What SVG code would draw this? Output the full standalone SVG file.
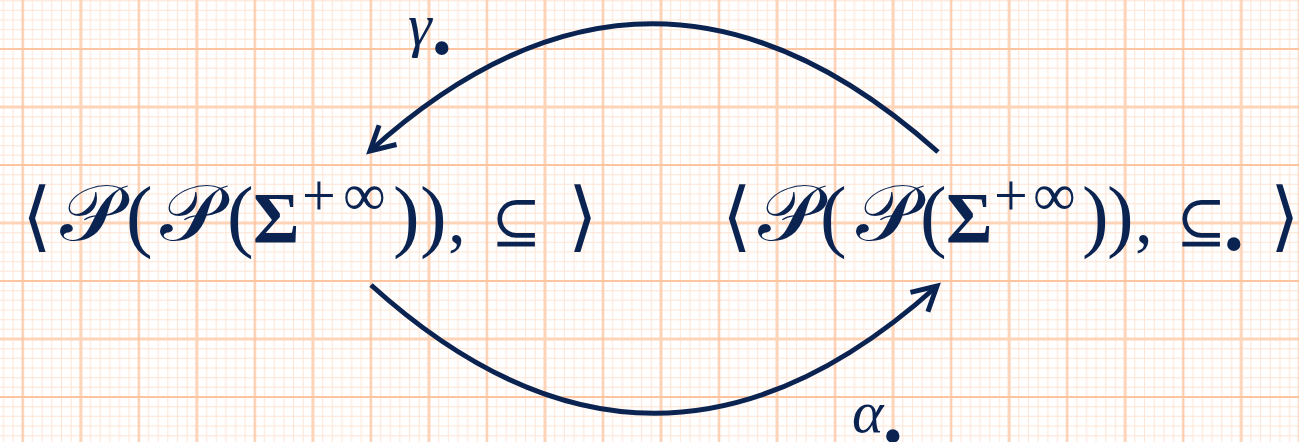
<svg xmlns="http://www.w3.org/2000/svg" width="1299" height="442" viewBox="0 0 1299 442">
<style>
.t{fill:#0b2351;font-family:"Liberation Serif","DejaVu Serif",serif;font-size:71px}
.scr{font-family:"DejaVu Sans","DejaVu Serif","Noto Sans",serif;font-size:78px}
.ang{font-family:"DejaVu Sans","DejaVu Serif",sans-serif;font-size:76px}
.op{font-family:"DejaVu Serif","DejaVu Sans",serif;font-size:60px}
.par{font-size:80px}
.sig{font-weight:bold}
.sup{font-size:60px}
.dot{font-size:56px;font-style:normal}
.lab{fill:#0b2351;font-family:"Liberation Serif","DejaVu Serif",serif;font-style:italic;font-size:60px}
.arc{fill:none;stroke:#0b2351;stroke-width:5}
</style>
<defs>
<pattern id="paper" patternUnits="userSpaceOnUse" x="-35.22" y="-9" width="116.04" height="116">
<rect width="116.04" height="116" fill="#ffffff"/>
<path d="M9.67,0V116M19.34,0V116M29.01,0V116M38.68,0V116M48.35,0V116M67.69,0V116M77.36,0V116M87.03,0V116M96.7,0V116M106.37,0V116M0,9.67H116.04M0,19.33H116.04M0,29H116.04M0,38.67H116.04M0,48.33H116.04M0,67.67H116.04M0,77.33H116.04M0,87H116.04M0,96.67H116.04M0,106.33H116.04" stroke="#fee5d4" stroke-width="1"/>
<path d="M0,0V116M116.04,0V116M0,0H116.04M0,116H116.04" stroke="#fdd4b8" stroke-width="3"/>
<path d="M58.02,0V116M0,58H116.04" stroke="#fdc4a0" stroke-width="2"/>
</pattern>
<marker id="vhead" markerUnits="userSpaceOnUse" orient="auto" refX="0" refY="0" markerWidth="40" markerHeight="40" viewBox="-30 -20 40 40" overflow="visible">
<path d="M-24,-13L0,0L-24,13" fill="none" stroke="#0b2351" stroke-width="5"/>
</marker>
</defs>
<rect id="grid" width="1299" height="442" fill="url(#paper)"/>
<g id="node-left" class="t">
<text class="scr" transform="translate(60,240) scale(1.08,1)">𝒫</text>
<text class="scr" transform="translate(160,240) scale(1.08,1)">𝒫</text>
<text y="242"><tspan class="ang" x="22">⟨</tspan><tspan class="par" x="126">(</tspan><tspan class="par" x="227">(</tspan><tspan class="sig" x="253">Σ</tspan><tspan class="sup" x="302" y="215">+</tspan><tspan class="sup" x="343" y="215">∞</tspan><tspan class="par" x="393" y="242">)</tspan><tspan class="par" x="420">)</tspan><tspan x="448">,</tspan><tspan class="op" x="491">⊆</tspan><tspan class="ang" x="568">⟩</tspan></text>
</g>
<g id="node-right" class="t">
<text class="scr" transform="translate(758,240) scale(1.08,1)">𝒫</text>
<text class="scr" transform="translate(856,240) scale(1.08,1)">𝒫</text>
<text y="242"><tspan class="ang" x="722">⟨</tspan><tspan class="par" x="820">(</tspan><tspan class="par" x="920">(</tspan><tspan class="sig" x="946">Σ</tspan><tspan class="sup" x="994" y="215">+</tspan><tspan class="sup" x="1033" y="215">∞</tspan><tspan class="par" x="1082" y="242">)</tspan><tspan class="par" x="1107">)</tspan><tspan x="1135">,</tspan><tspan class="op" x="1176">⊆</tspan><tspan class="dot" x="1224" y="263">•</tspan><tspan class="ang" x="1270" y="242">⟩</tspan></text>
</g>
<g id="connectors">
<path id="gamma-arc" class="arc" d="M938,152Q652,-104 370,151" marker-end="url(#vhead)"/>
<path id="alpha-arc" class="arc" d="M371,285Q654,541 937,286" marker-end="url(#vhead)"/>
</g>
<g id="label-gamma"><text class="lab" x="408" y="45">γ<tspan class="dot" x="432" y="67">•</tspan></text></g>
<g id="label-alpha"><text class="lab" x="852" y="432">α<tspan class="dot" x="883" y="455">•</tspan></text></g>
</svg>
